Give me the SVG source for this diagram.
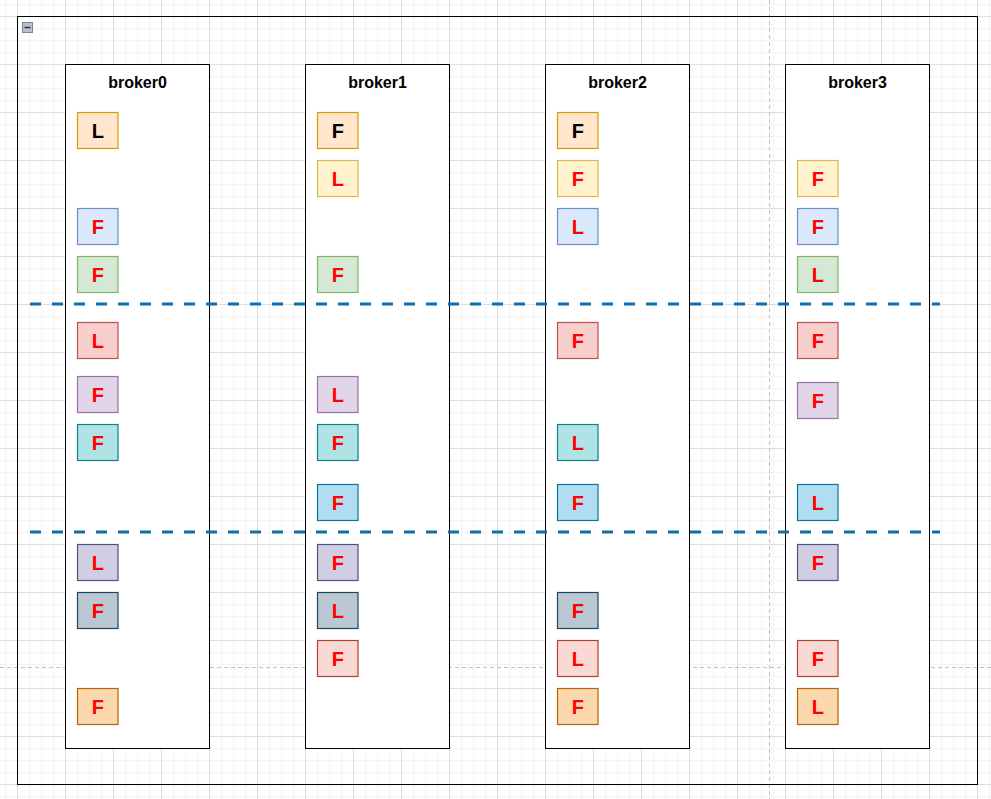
<svg xmlns="http://www.w3.org/2000/svg" width="991" height="799" viewBox="0 0 991 799">
<defs>
<pattern id="minor" patternUnits="userSpaceOnUse" x="17" y="16" width="12" height="12">
<path d="M0.5 0V12M0 0.5H12" stroke="#f4f4f4" stroke-width="1.5" fill="none"/>
</pattern>
<pattern id="major" patternUnits="userSpaceOnUse" x="17" y="16" width="48" height="48">
<path d="M0.5 0V48M0 0.5H48" stroke="#dedede" stroke-width="1" fill="none"/>
</pattern>
</defs>
<style>
.broker{fill:#ffffff;stroke:#000000;stroke-width:1}
.blabel{font-family:"Liberation Sans",Arial,sans-serif;font-weight:bold;font-size:16px;fill:#000;text-anchor:middle}
.p{stroke-width:1.2}
.t{font-family:"Liberation Sans",Arial,sans-serif;font-weight:bold;font-size:20px;fill:#ff0000;text-anchor:middle}
.tb{fill:#000000}
.c0{fill:#ffe6cc;stroke:#d79b00}
.c1{fill:#fff2cc;stroke:#d6b656}
.c2{fill:#dae8fc;stroke:#6c8ebf}
.c3{fill:#d5e8d4;stroke:#82b366}
.c4{fill:#f8cecc;stroke:#b85450}
.c5{fill:#e1d5e7;stroke:#9673a6}
.c6{fill:#b0e3e6;stroke:#0e8088}
.c7{fill:#b1ddf0;stroke:#10739e}
.c8{fill:#d0cee2;stroke:#56517e}
.c9{fill:#bac8d3;stroke:#23445d}
.c10{fill:#fad9d5;stroke:#ae4132}
.c11{fill:#fad7ac;stroke:#b46504}
.sep{stroke:#0f6fae;stroke-width:3;stroke-dasharray:11 11;fill:none}
.pb{stroke:#c0c0c0;stroke-width:1;stroke-dasharray:4 3;fill:none}
</style>
<rect width="991" height="799" fill="#ffffff"/>
<rect width="991" height="799" fill="url(#minor)"/>
<rect width="991" height="799" fill="url(#major)"/>
<g id="page-breaks">
<path class="pb" d="M769.5 0V799"/>
<path class="pb" d="M0 667.5H991"/>
</g>
<g id="container">
<rect x="17.5" y="16.5" width="960" height="768" fill="none" stroke="#000" stroke-width="1"/>
<rect x="22.5" y="22.5" width="10" height="10" fill="#b9c0cc" stroke="#7b8594"/>
<path d="M24.5 27.5H30.5" stroke="#333" stroke-width="1.5"/>
</g>
<g id="broker0">
<rect class="broker" x="65.5" y="64.5" width="144" height="684"/>
<text class="blabel" x="137.5" y="87.5">broker0</text>
<rect class="p c0" x="77.5" y="112.5" width="40.5" height="36"/><text class="t tb" x="97.75" y="137.5">L</text>
<rect class="p c2" x="77.5" y="208.5" width="40.5" height="36"/><text class="t" x="97.75" y="233.5">F</text>
<rect class="p c3" x="77.5" y="256.5" width="40.5" height="36"/><text class="t" x="97.75" y="281.5">F</text>
<rect class="p c4" x="77.5" y="322.5" width="40.5" height="36"/><text class="t" x="97.75" y="347.5">L</text>
<rect class="p c5" x="77.5" y="376.5" width="40.5" height="36"/><text class="t" x="97.75" y="401.5">F</text>
<rect class="p c6" x="77.5" y="424.5" width="40.5" height="36"/><text class="t" x="97.75" y="449.5">F</text>
<rect class="p c8" x="77.5" y="544.5" width="40.5" height="36"/><text class="t" x="97.75" y="569.5">L</text>
<rect class="p c9" x="77.5" y="592.5" width="40.5" height="36"/><text class="t" x="97.75" y="617.5">F</text>
<rect class="p c11" x="77.5" y="688.5" width="40.5" height="36"/><text class="t" x="97.75" y="713.5">F</text>
</g>
<g id="broker1">
<rect class="broker" x="305.5" y="64.5" width="144" height="684"/>
<text class="blabel" x="377.5" y="87.5">broker1</text>
<rect class="p c0" x="317.5" y="112.5" width="40.5" height="36"/><text class="t tb" x="337.75" y="137.5">F</text>
<rect class="p c1" x="317.5" y="160.5" width="40.5" height="36"/><text class="t" x="337.75" y="185.5">L</text>
<rect class="p c3" x="317.5" y="256.5" width="40.5" height="36"/><text class="t" x="337.75" y="281.5">F</text>
<rect class="p c5" x="317.5" y="376.5" width="40.5" height="36"/><text class="t" x="337.75" y="401.5">L</text>
<rect class="p c6" x="317.5" y="424.5" width="40.5" height="36"/><text class="t" x="337.75" y="449.5">F</text>
<rect class="p c7" x="317.5" y="484.5" width="40.5" height="36"/><text class="t" x="337.75" y="509.5">F</text>
<rect class="p c8" x="317.5" y="544.5" width="40.5" height="36"/><text class="t" x="337.75" y="569.5">F</text>
<rect class="p c9" x="317.5" y="592.5" width="40.5" height="36"/><text class="t" x="337.75" y="617.5">L</text>
<rect class="p c10" x="317.5" y="640.5" width="40.5" height="36"/><text class="t" x="337.75" y="665.5">F</text>
</g>
<g id="broker2">
<rect class="broker" x="545.5" y="64.5" width="144" height="684"/>
<text class="blabel" x="617.5" y="87.5">broker2</text>
<rect class="p c0" x="557.5" y="112.5" width="40.5" height="36"/><text class="t tb" x="577.75" y="137.5">F</text>
<rect class="p c1" x="557.5" y="160.5" width="40.5" height="36"/><text class="t" x="577.75" y="185.5">F</text>
<rect class="p c2" x="557.5" y="208.5" width="40.5" height="36"/><text class="t" x="577.75" y="233.5">L</text>
<rect class="p c4" x="557.5" y="322.5" width="40.5" height="36"/><text class="t" x="577.75" y="347.5">F</text>
<rect class="p c6" x="557.5" y="424.5" width="40.5" height="36"/><text class="t" x="577.75" y="449.5">L</text>
<rect class="p c7" x="557.5" y="484.5" width="40.5" height="36"/><text class="t" x="577.75" y="509.5">F</text>
<rect class="p c9" x="557.5" y="592.5" width="40.5" height="36"/><text class="t" x="577.75" y="617.5">F</text>
<rect class="p c10" x="557.5" y="640.5" width="40.5" height="36"/><text class="t" x="577.75" y="665.5">L</text>
<rect class="p c11" x="557.5" y="688.5" width="40.5" height="36"/><text class="t" x="577.75" y="713.5">F</text>
</g>
<g id="broker3">
<rect class="broker" x="785.5" y="64.5" width="144" height="684"/>
<text class="blabel" x="857.5" y="87.5">broker3</text>
<rect class="p c1" x="797.5" y="160.5" width="40.5" height="36"/><text class="t" x="817.75" y="185.5">F</text>
<rect class="p c2" x="797.5" y="208.5" width="40.5" height="36"/><text class="t" x="817.75" y="233.5">F</text>
<rect class="p c3" x="797.5" y="256.5" width="40.5" height="36"/><text class="t" x="817.75" y="281.5">L</text>
<rect class="p c4" x="797.5" y="322.5" width="40.5" height="36"/><text class="t" x="817.75" y="347.5">F</text>
<rect class="p c5" x="797.5" y="382.5" width="40.5" height="36"/><text class="t" x="817.75" y="407.5">F</text>
<rect class="p c7" x="797.5" y="484.5" width="40.5" height="36"/><text class="t" x="817.75" y="509.5">L</text>
<rect class="p c8" x="797.5" y="544.5" width="40.5" height="36"/><text class="t" x="817.75" y="569.5">F</text>
<rect class="p c10" x="797.5" y="640.5" width="40.5" height="36"/><text class="t" x="817.75" y="665.5">F</text>
<rect class="p c11" x="797.5" y="688.5" width="40.5" height="36"/><text class="t" x="817.75" y="713.5">L</text>
</g>
<g id="connectors">
<path class="sep" d="M30 304H940"/>
<path class="sep" d="M30 532H940"/>
</g>
</svg>
